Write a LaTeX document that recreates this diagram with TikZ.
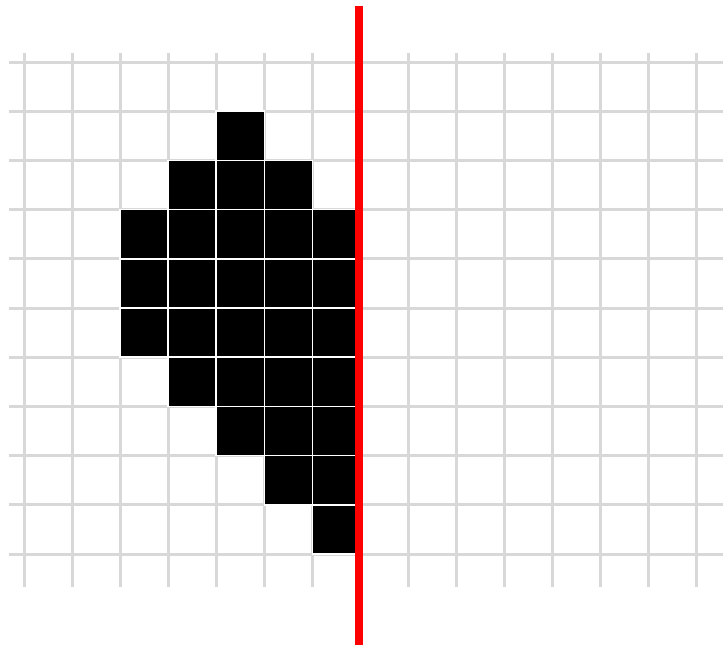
\documentclass[tikz,border=0pt]{standalone}
\usepackage{tikz}
\definecolor{gridgray}{RGB}{216,216,216}
\tikzset{
  gridline/.style={draw=gridgray, line width=3pt},
  pixel/.style={fill=black, draw=white, line width=1.6pt},
  axisline/.style={draw=red, line width=8pt}
}
\begin{document}
\begin{tikzpicture}[x=1pt,y=-1pt]
\useasboundingbox (0,0) rectangle (723,645);
\def\dx{48.07}
\def\dy{49.2}
% vertical grid lines
\foreach \i in {0,...,14}{
  \draw[gridline] ({24+\dx*\i},53) -- ({24+\dx*\i},587);
}
% horizontal grid lines
\foreach \j in {0,...,10}{
  \draw[gridline] (9,{62+\dy*\j}) -- (723,{62+\dy*\j});
}
% black pixels: column/row
\foreach \c/\r in {4/1,
  3/2,4/2,5/2,
  2/3,3/3,4/3,5/3,6/3,
  2/4,3/4,4/4,5/4,6/4,
  2/5,3/5,4/5,5/5,6/5,
  3/6,4/6,5/6,6/6,
  4/7,5/7,6/7,
  5/8,6/8,
  6/9}{
  \draw[pixel] ({24+\dx*\c},{62+\dy*\r}) rectangle ({24+\dx*(\c+1)},{62+\dy*(\r+1)});
}
% red line
\coordinate (top) at (359,6);
\coordinate (bot) at (359,645);
\draw[axisline] (top) -- (bot);
\end{tikzpicture}
\end{document}
